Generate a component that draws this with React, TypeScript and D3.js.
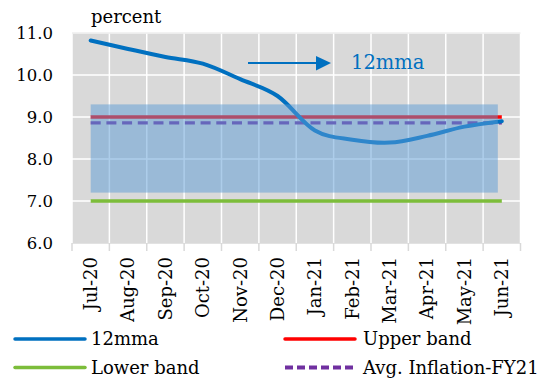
import React from "react";
import * as d3 from "d3";

const months = ["Jul-20","Aug-20","Sep-20","Oct-20","Nov-20","Dec-20","Jan-21","Feb-21","Mar-21","Apr-21","May-21","Jun-21"];
const mma12 = [10.82, 10.62, 10.43, 10.27, 9.90, 9.50, 8.68, 8.46, 8.39, 8.55, 8.77, 8.90];
const upperBand = [9.0, 9.0, 9.0, 9.0, 9.0, 9.0, 9.0, 9.0, 9.0, 9.0, 9.0, 9.0];
const lowerBand = [7.0, 7.0, 7.0, 7.0, 7.0, 7.0, 7.0, 7.0, 7.0, 7.0, 7.0, 7.0];
const avgInflation = [8.86, 8.86, 8.86, 8.86, 8.86, 8.86, 8.86, 8.86, 8.86, 8.86, 8.86, 8.86];
const shadeRange = [7.2, 9.3];
const yTicks = [6, 7, 8, 9, 10, 11];

const W = 551, H = 382;
const FONT = "'DejaVu Serif', serif";

export default function App() {
  const x = d3.scaleBand<string>().domain(months).range([72, 520.5]).paddingInner(0).paddingOuter(0);
  const y = d3.scaleLinear().domain([6, 11]).range([243, 33]);
  const cx = (m: string) => (x(m) as number) + x.bandwidth() / 2;

  const line = d3.line<number>().x((_, i) => cx(months[i])).y((d) => y(d));
  const smooth = d3.line<number>().x((_, i) => cx(months[i])).y((d) => y(d)).curve(d3.curveCatmullRom.alpha(0));

  const boundaries = months.map((m) => x(m) as number).concat([x.range()[1]]);
  const x0 = x.range()[0], x1 = x.range()[1];

  const rectX0 = cx(months[0]);
  const rectX1 = cx(months[months.length - 1]) - 4;

  const blue = "#0070C0";
  const red = "#FF0000";
  const green = "#7CBD3A";
  const purple = "#7030A0";

  return (
    <svg width={W} height={H} style={{ position: "absolute", left: 0, top: 0, background: "#fff" }} fontFamily={FONT}>
      <rect x={x0} y={y(11)} width={x1 - x0} height={y(6) - y(11)} fill="#D9D9D9" />
      {yTicks.map((t) => (
        <line key={"h" + t} x1={x0} x2={x1} y1={y(t)} y2={y(t)} stroke={t === 6 ? "#D9D9D9" : "#FFFFFF"} strokeWidth={1.5} />
      ))}
      {boundaries.map((b, i) => (
        <line key={"v" + i} x1={b} x2={b} y1={y(11)} y2={y(6)} stroke="#FFFFFF" strokeWidth={1.5} />
      ))}
      {boundaries.map((b, i) => (
        <line key={"t" + i} x1={b} x2={b} y1={y(6)} y2={y(6) + 8} stroke="#D9D9D9" strokeWidth={1.5} />
      ))}
      <line x1={x0} x2={x1} y1={y(11)} y2={y(11)} stroke="#E4E4E4" strokeWidth={1} />

      <path d={line(lowerBand) as string} fill="none" stroke={green} strokeWidth={3.5} />
      <path d={line(upperBand) as string} fill="none" stroke={red} strokeWidth={3.5} />
      <path d={line(avgInflation) as string} fill="none" stroke={purple} strokeWidth={3.3} strokeDasharray="10,5.7" />
      <path d={smooth(mma12) as string} fill="none" stroke={blue} strokeWidth={4} strokeLinecap="round" />

      <rect x={rectX0} y={y(shadeRange[1])} width={rectX1 - rectX0} height={y(shadeRange[0]) - y(shadeRange[1])} fill="#5B9BD5" fillOpacity={0.5} />

      {yTicks.map((t) => (
        <text key={"yl" + t} x={53} y={y(t)} dy="0.35em" textAnchor="end" fontSize={16.5} fill="#000">{t.toFixed(1)}</text>
      ))}
      {months.map((m) => (
        <text key={"xl" + m} transform={`translate(${cx(m)},257) rotate(-90)`} dy="0.35em" textAnchor="end" fontSize={18} fill="#000">{m}</text>
      ))}
      <text x={91} y={22.5} fontSize={18} fill="#000">percent</text>

      <line x1={248} x2={318} y1={63} y2={63} stroke={blue} strokeWidth={1.8} />
      <path d="M316,56 L331,63 L316,70.5 Z" fill={blue} />
      <text x={351} y={69} fontSize={19.5} fill={blue}>12mma</text>

      <line x1={15} x2={85} y1={339} y2={339} stroke={blue} strokeWidth={3.5} strokeLinecap="round" />
      <text x={91} y={339} dy="0.35em" fontSize={18} fill="#000">12mma</text>
      <line x1={285} x2={355} y1={339} y2={339} stroke={red} strokeWidth={3.5} strokeLinecap="round" />
      <text x={363} y={339} dy="0.35em" fontSize={18} fill="#000">Upper band</text>
      <line x1={15} x2={85} y1={367.5} y2={367.5} stroke={green} strokeWidth={3.5} strokeLinecap="round" />
      <text x={91} y={367.5} dy="0.35em" fontSize={18} fill="#000">Lower band</text>
      <line x1={285} x2={355} y1={367.5} y2={367.5} stroke={purple} strokeWidth={4} strokeDasharray="8,4" />
      <text x={363} y={367.5} dy="0.35em" fontSize={18} fill="#000">Avg. Inflation-FY21</text>
    </svg>
  );
}
